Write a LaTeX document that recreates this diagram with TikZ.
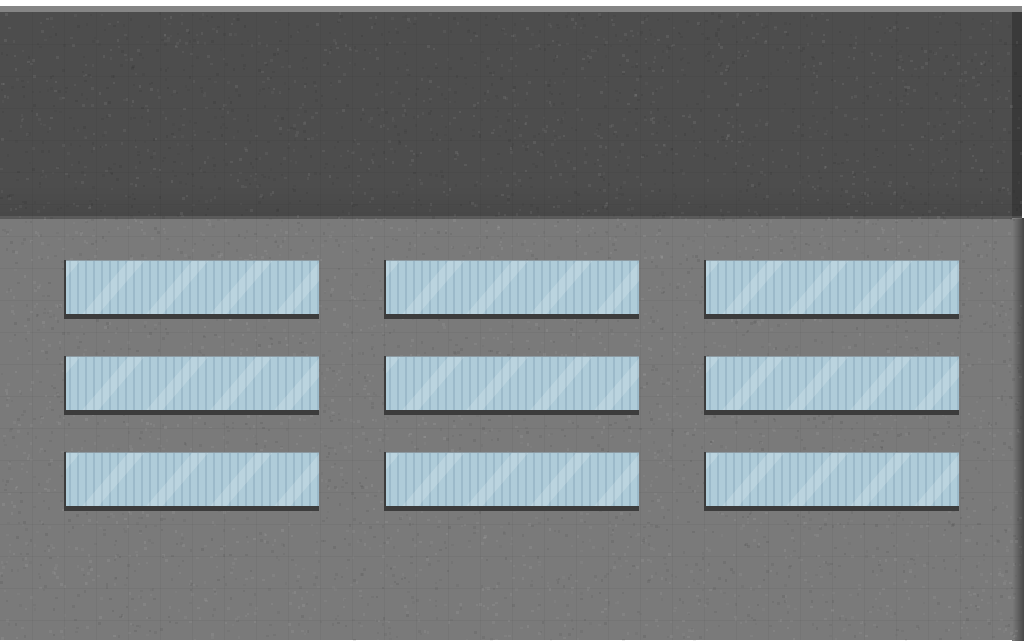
\documentclass[tikz,border=0pt]{standalone}
\definecolor{topgray}{HTML}{4D4D4D}
\definecolor{toprim}{HTML}{858585}
\definecolor{lowgray}{HTML}{7A7A7A}
\definecolor{edgedark}{HTML}{3A3A3A}
\definecolor{glass}{HTML}{AFCCD9}
\definecolor{stripe}{HTML}{9CBACA}
\definecolor{winshadow}{HTML}{3C3C3C}
\definecolor{winrim}{HTML}{8C9AA2}
\tikzset{
  glassfill/.style={fill=glass},
  stripeline/.style={draw=stripe,line width=1.6pt},
  highlight/.style={fill=white,opacity=0.16},
  shadowfill/.style={fill=winshadow},
  tileline/.style={draw=black,opacity=0.035,line width=0.8pt},
}
\newcommand\facadewin[2]{%
  \begin{scope}[shift={(#1,#2)}]
    \fill[glassfill] (0,0) rectangle (254,58);
    \begin{scope}
      \clip (0,0) rectangle (254,58);
      \foreach \s in {5,13,...,253} \draw[stripeline] (\s,0) -- (\s,58);
      \foreach \h in {-50,14,...,270} \fill[highlight] (\h,58) -- (\h+16,58) -- (\h+66,0) -- (\h+50,0) -- cycle;
    \end{scope}
    \draw[winrim,line width=1pt] (0,0.5) -- (254,0.5);
    \fill[shadowfill] (0,54) rectangle (254,59);
    \fill[shadowfill] (-1.5,0) rectangle (0.5,59);
  \end{scope}}
\begin{document}
\begin{tikzpicture}[x=1pt,y=-1pt]
\useasboundingbox (0,0) rectangle (1024,640);
\fill[white] (0,0) rectangle (1024,640);
% lower facade
\fill[lowgray] (0,218) rectangle (1024,640);
\shade[left color=lowgray,right color=edgedark!80!lowgray] (1012,218) rectangle (1024,640);
% upper band
\fill[topgray] (0,6) rectangle (1022,218);
\fill[toprim] (0,6) rectangle (1022,12);
\shade[top color=topgray,bottom color=black!72] (0,185) rectangle (1012,218);
\fill[edgedark] (1012,12) rectangle (1022,218);
\fill[white,opacity=0.1] (0,216) rectangle (1022,219);
% texture
\pgfmathsetseed{11}
\begin{scope}
  \clip (0,12) rectangle (1022,640);
  \foreach \i in {1,...,6000} {
    \pgfmathsetmacro\px{rnd*1024}
    \pgfmathsetmacro\py{12+rnd*628}
    \pgfmathsetmacro\op{0.03+0.05*rnd}
    \ifodd\i
      \fill[white,opacity=\op] (\px,\py) rectangle ++(2.5,2.5);
    \else
      \fill[black,opacity=\op] (\px,\py) rectangle ++(2.5,2.5);
    \fi
  }
  \foreach \gx in {32,64,...,1000} \draw[tileline] (\gx,12) -- (\gx,640);
  \foreach \gy in {44,76,...,640} \draw[tileline] (0,\gy) -- (1022,\gy);
\end{scope}
% windows
\foreach \wy in {260,356,452} {
  \foreach \wx in {65,385,705} {
    \facadewin{\wx}{\wy}
  }
}
\end{tikzpicture}
\end{document}
